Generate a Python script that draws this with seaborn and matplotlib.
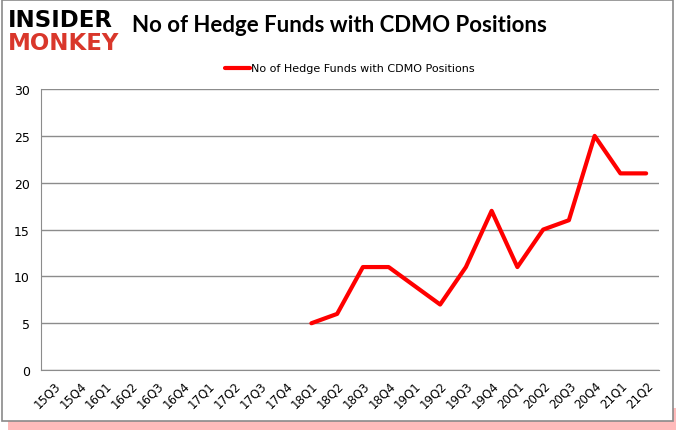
import numpy as np
import pandas as pd
import seaborn as sns
import matplotlib.pyplot as plt
from matplotlib.patches import Rectangle

# Quarter labels and hedge fund counts (NaN = no data)
quarters = ['15Q3', '15Q4', '16Q1', '16Q2', '16Q3', '16Q4', '17Q1', '17Q2',
            '17Q3', '17Q4', '18Q1', '18Q2', '18Q3', '18Q4', '19Q1', '19Q2',
            '19Q3', '19Q4', '20Q1', '20Q2', '20Q3', '20Q4', '21Q1', '21Q2']
funds = [np.nan] * 10 + [5, 6, 11, 11, 9, 7, 11, 17, 11, 15, 16, 25, 21, 21]
series_name = 'No of Hedge Funds with CDMO Positions'

df = pd.DataFrame({'pos': range(len(quarters)), 'quarter': quarters, 'funds': funds})

sns.set_style('white')
plt.rcParams['font.family'] = ['DejaVu Sans']
plt.rcParams['text.color'] = 'black'
plt.rcParams['xtick.color'] = 'black'
plt.rcParams['ytick.color'] = 'black'

fig = plt.figure(figsize=(6.78, 4.31), dpi=100)

# red glow at the bottom + gray frame like the original image
fig.patches.append(Rectangle((0.012, 0.0), 0.985, 0.05, transform=fig.transFigure,
                             facecolor='#ff2020', edgecolor='none', alpha=0.3, zorder=-3))
fig.patches.append(Rectangle((0.003, 0.022), 0.99, 0.975, transform=fig.transFigure,
                             facecolor='white', edgecolor='#8a8a8a', linewidth=1.2, zorder=-2))

ax = fig.add_axes([0.0605, 0.139, 0.9115, 0.652])
sns.lineplot(data=df, x='pos', y='funds', color='#ff0000', linewidth=3, ax=ax,
             label=series_name)

ax.set_xlim(-0.5, len(quarters) - 0.5)
ax.set_ylim(0, 30)
ax.set_yticks(range(0, 31, 5))
ax.yaxis.grid(True, color='#8c8c8c', linewidth=1)
ax.set_axisbelow(True)
ax.set_xticks(np.arange(len(quarters)))
ax.set_xticklabels(quarters, rotation=45, ha='right', rotation_mode='anchor', fontsize=8.5)
ax.set_xticks(np.arange(-0.5, len(quarters)), minor=True)
ax.tick_params(axis='x', which='major', length=0, pad=6)
ax.tick_params(axis='x', which='minor', length=4, color='#8c8c8c', direction='out')
ax.tick_params(axis='y', length=0, labelsize=9, pad=8)
ax.set_xlabel('')
ax.set_ylabel('')
for side in ['top', 'right']:
    ax.spines[side].set_visible(False)
for side in ['left', 'bottom']:
    ax.spines[side].set_color('#8c8c8c')
ax.patch.set_alpha(0)

ax.legend(loc='lower center', bbox_to_anchor=(0.5, 1.02), frameon=False, fontsize=8,
          handlelength=2.2, handletextpad=0.1)

fig.text(0.5, 0.94, series_name, ha='center', va='center', fontsize=16, fontweight='bold',
         family=['Lato', 'DejaVu Sans'])
fig.text(0.012, 0.952, 'INSIDER', ha='left', va='center', fontsize=16.5, fontweight='heavy', color='black')
fig.text(0.012, 0.9, 'MONKEY', ha='left', va='center', fontsize=16.5, fontweight='heavy', color='#d9372b')

fig.savefig('out.png', dpi=100)
